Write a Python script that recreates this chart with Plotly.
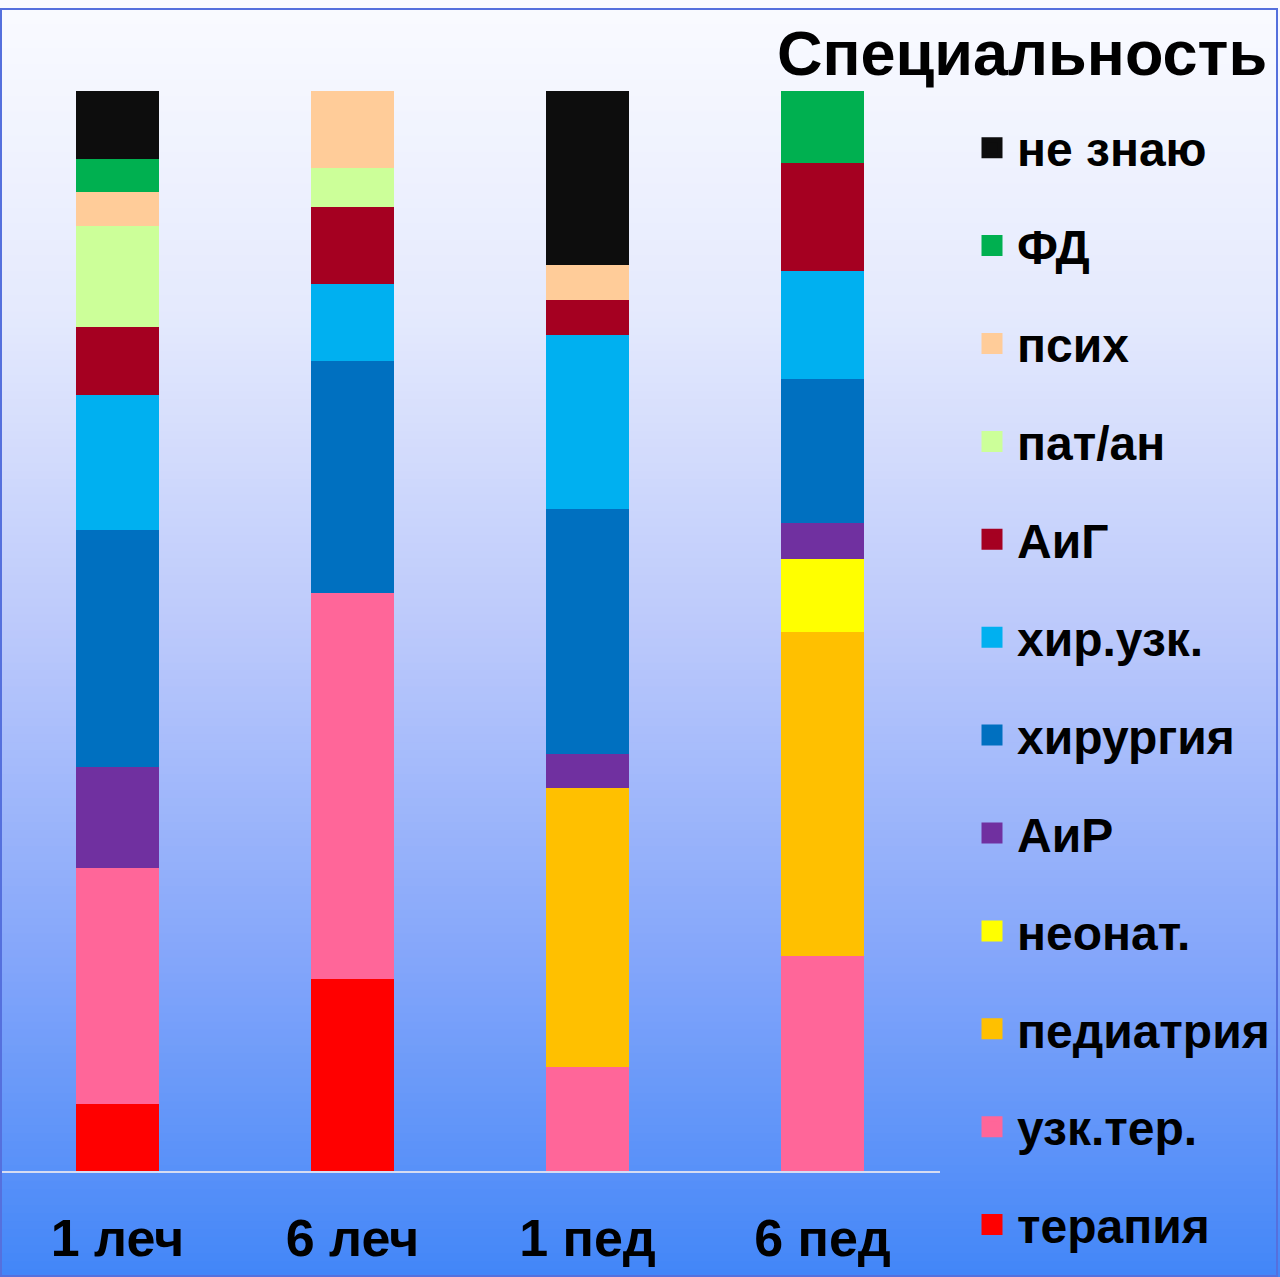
import plotly.graph_objects as go

# ---- data ----
categories = ["1 леч", "6 леч", "1 пед", "6 пед"]
series_names = ["терапия", "узк.тер.", "педиатрия", "неонат.", "АиР", "хирургия",
                "хир.узк.", "АиГ", "пат/ан", "псих", "ФД", "не знаю"]
terapiya = [2, 5, 0, 0]
uzk_ter = [7, 10, 3, 6]
pediatriya = [0, 0, 8, 9]
neonat = [0, 0, 0, 2]
air = [3, 0, 1, 1]
hirurgiya = [7, 6, 7, 4]
hir_uzk = [4, 2, 5, 3]
aig = [2, 2, 1, 3]
pat_an = [3, 1, 0, 0]
psih = [1, 2, 1, 0]
fd = [1, 0, 0, 2]
ne_znayu = [2, 0, 5, 0]
series_values = [terapiya, uzk_ter, pediatriya, neonat, air, hirurgiya,
                 hir_uzk, aig, pat_an, psih, fd, ne_znayu]
colors = ["#FF0000", "#FF6699", "#FFC000", "#FFFF00", "#7030A0", "#0070C0",
          "#00B0F0", "#A50021", "#CCFF99", "#FFCC99", "#00B050", "#0D0D0D"]
legend_title = "Специальность"

W, H = 1280, 1277
PLOT_RIGHT = 940          # right edge of the bar area (px)
BASE_PX, TOP_PX = 1172, 91  # pixel rows of 0 % and 100 %
ML, MR, MT, MB = 0, W - PLOT_RIGHT, 0, 0
PW = W - ML - MR
PH = H - MT - MB


def px_x(x):
    return (x - ML) / PW


def px_y(y):
    return (H - MB - y) / PH


# y range so that 0 % and 100 % land on the reference pixel rows
scale = (BASE_PX - TOP_PX) / 100.0
y_lo = -(H - BASE_PX) / scale
y_hi = 100 + TOP_PX / scale

FONT = "Liberation Sans, Arial, sans-serif"

fig = go.Figure()
for name, vals, col in zip(series_names, series_values, colors):
    fig.add_trace(go.Bar(x=categories, y=vals, name=name, marker_color=col,
                         marker_line_width=0, showlegend=False))
# legend entries (top to bottom = reverse of stacking order)
for name, col in reversed(list(zip(series_names, colors))):
    fig.add_trace(go.Scatter(x=[None], y=[None], mode="markers", name=name,
                             legendgroup=name, hoverinfo="skip",
                             marker=dict(symbol="square", size=16, color=col,
                                         line=dict(color=col, width=5))))

# gradient background bands
stops = [(0.0, (250, 251, 255)), (0.25, (228, 233, 253)), (0.5, (186, 200, 251)),
         (0.75, (132, 166, 250)), (1.0, (66, 134, 248))]


def grad(t):
    for (t0, c0), (t1, c1) in zip(stops[:-1], stops[1:]):
        if t <= t1:
            f = (t - t0) / (t1 - t0)
            return tuple(round(a + (b - a) * f) for a, b in zip(c0, c1))
    return stops[-1][1]


shapes = []
NB = 160
band = H / NB
for i in range(NB):
    y0 = i * band
    y1 = (i + 1) * band + 1.2
    r, g, b = grad((i + 0.5) / NB)
    shapes.append(dict(type="rect", xref="paper", yref="paper",
                       x0=px_x(0), x1=px_x(W), y0=px_y(y1), y1=px_y(y0),
                       fillcolor=f"rgb({r},{g},{b})", line_width=0, layer="below"))
# outer border
shapes.append(dict(type="rect", xref="paper", yref="paper",
                   x0=px_x(1), x1=px_x(1277), y0=px_y(1276), y1=px_y(9),
                   line=dict(color="#5570DD", width=2), fillcolor="rgba(0,0,0,0)",
                   layer="above"))

fig.update_layout(
    width=W, height=H,
    margin=dict(l=ML, r=MR, t=MT, b=MB, autoexpand=False),
    barmode="stack", barnorm="percent", bargap=0.647,
    paper_bgcolor="white", plot_bgcolor="rgba(0,0,0,0)",
    font=dict(family=FONT, color="black"),
    shapes=shapes,
    showlegend=True,
    xaxis=dict(range=[-0.5, 3.5], showgrid=False, zeroline=False,
               anchor="free", position=px_y(BASE_PX),
               showline=True, linecolor="#D6DCF2", linewidth=2,
               tickfont=dict(size=52, family=FONT, weight="bold", color="black"),
               ticklabelstandoff=21, fixedrange=True),
    yaxis=dict(range=[y_lo, y_hi], showgrid=False, zeroline=False, showline=False,
               showticklabels=False, fixedrange=True),
    legend=dict(x=px_x(967), xanchor="left", y=px_y(110), yanchor="top",
                traceorder="grouped", tracegroupgap=32.5,
                itemwidth=40, bgcolor="rgba(0,0,0,0)",
                font=dict(size=48, family=FONT, weight="bold", color="black")),
    annotations=[dict(text=legend_title, xref="paper", yref="paper",
                      x=px_x(1269), xanchor="right", y=px_y(53), yanchor="middle",
                      showarrow=False,
                      font=dict(size=63, family=FONT, weight="bold", color="black"))],
)

fig.write_html("out.html", config={"displayModeBar": False},
               post_script="document.body.style.margin='0';document.body.style.overflow='hidden';")
